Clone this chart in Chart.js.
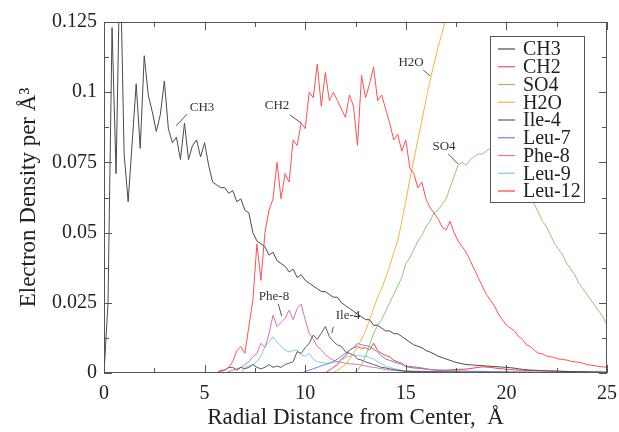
<!DOCTYPE html>
<html>
<head>
<meta charset="utf-8">
<script src="https://cdn.jsdelivr.net/npm/chart.js@4.4.1/dist/chart.umd.min.js"></script>
<style>
  html, body { margin: 0; padding: 0; background: #fff; }
  #wrap { width: 619px; height: 432px; }
</style>
</head>
<body>
<div id="wrap"><canvas id="grafico" width="619" height="432"></canvas></div>
<script>
// radial distance (Å), one point every 0.2
const radius = [
  0, 0.2, 0.4, 0.6, 0.8, 1, 1.2, 1.4, 1.6, 1.8,
  2, 2.2, 2.4, 2.6, 2.8, 3, 3.2, 3.4, 3.6, 3.8,
  4, 4.2, 4.4, 4.6, 4.8, 5, 5.2, 5.4, 5.6, 5.8,
  6, 6.2, 6.4, 6.6, 6.8, 7, 7.2, 7.4, 7.6, 7.8,
  8, 8.2, 8.4, 8.6, 8.8, 9, 9.2, 9.4, 9.6, 9.8,
  10, 10.2, 10.4, 10.6, 10.8, 11, 11.2, 11.4, 11.6, 11.8,
  12, 12.2, 12.4, 12.6, 12.8, 13, 13.2, 13.4, 13.6, 13.8,
  14, 14.2, 14.4, 14.6, 14.8, 15, 15.2, 15.4, 15.6, 15.8,
  16, 16.2, 16.4, 16.6, 16.8, 17, 17.2, 17.4, 17.6, 17.8,
  18, 18.2, 18.4, 18.6, 18.8, 19, 19.2, 19.4, 19.6, 19.8,
  20, 20.2, 20.4, 20.6, 20.8, 21, 21.2, 21.4, 21.6, 21.8,
  22, 22.2, 22.4, 22.6, 22.8, 23, 23.2, 23.4, 23.6, 23.8,
  24, 24.2, 24.4, 24.6, 24.8, 25
];

const ch3 = [
  0, 0.025, 0.123, 0.071, 0.15, 0.078, 0.061, 0.082, 0.103, 0.08,
  0.113, 0.099, 0.093, 0.086, 0.092, 0.104, 0.087, 0.082, 0.084, 0.076,
  0.089, 0.076, 0.081, 0.083, 0.077, 0.082, 0.074, 0.068, 0.067, 0.066,
  0.066, 0.064, 0.065, 0.061, 0.062, 0.058, 0.057, 0.05, 0.047, 0.046,
  0.045, 0.042, 0.043, 0.04, 0.039, 0.038, 0.036, 0.037, 0.034, 0.035,
  0.033, 0.032, 0.031, 0.03, 0.029, 0.029, 0.028, 0.027, 0.027, 0.025,
  0.024, 0.023, 0.022, 0.021, 0.02, 0.019, 0.019, 0.017, 0.017, 0.016,
  0.015, 0.015, 0.014, 0.014, 0.013, 0.012, 0.011, 0.01, 0.0095, 0.009,
  0.008, 0.0075, 0.0068, 0.006, 0.0055, 0.005, 0.0045, 0.004, 0.0036, 0.0033,
  0.003, 0.0029, 0.0028, 0.0027, 0.0026, 0.0025, 0.0024, 0.0023, 0.0022, 0.0021,
  0.002, 0.0019, 0.0017, 0.0015, 0.0013, 0.0012, 0.001, 0.001, 0.0009, 0.0008,
  0.0008, 0.0007, 0.0007, 0.0006, 0.0006, 0.0005, 0.0005, 0.0005, 0.0004, 0.0004,
  0.0004, 0.0003, 0.0003, 0.0003, 0.0002, 0.0002
];
const ch2 = [
  0, 0, 0, 0, 0, 0, 0, 0, 0, 0,
  0, 0, 0, 0, 0, 0, 0, 0, 0, 0,
  0, 0, 0, 0, 0, 0, 0, 0, 0, 0.0005,
  0.001, 0.002, 0.004, 0.008, 0.0094, 0.007, 0.0165, 0.026, 0.046, 0.033,
  0.05, 0.058, 0.062, 0.075, 0.062, 0.071, 0.068, 0.083, 0.081, 0.089,
  0.087, 0.1, 0.098, 0.11, 0.095, 0.107, 0.097, 0.1, 0.097, 0.094,
  0.091, 0.099, 0.095, 0.081, 0.106, 0.098, 0.103, 0.109, 0.097, 0.099,
  0.094, 0.089, 0.083, 0.085, 0.079, 0.083, 0.073, 0.071, 0.066, 0.068,
  0.062, 0.059, 0.057, 0.055, 0.052, 0.051, 0.054, 0.05, 0.047, 0.045,
  0.043, 0.04, 0.037, 0.034, 0.031, 0.028, 0.026, 0.024, 0.021, 0.019,
  0.017, 0.016, 0.015, 0.013, 0.012, 0.01, 0.0094, 0.008, 0.007, 0.0068,
  0.006, 0.0058, 0.0055, 0.005, 0.0048, 0.0046, 0.0042, 0.004, 0.0038, 0.0035,
  0.003, 0.0028, 0.0026, 0.0023, 0.0022, 0.002
];
const so4 = [
  0, 0, 0, 0, 0, 0, 0, 0, 0, 0,
  0, 0, 0, 0, 0, 0, 0, 0, 0, 0,
  0, 0, 0, 0, 0, 0, 0, 0, 0, 0,
  0, 0, 0, 0, 0, 0, 0, 0, 0, 0,
  0, 0, 0, 0, 0, 0, 0, 0, 0, 0,
  0, 0, 0, 0, 0, 0, 0, 0, 0, 0,
  0, 0, 0, 0.001, 0.003, 0.006, 0.01, 0.014, 0.017, 0.019,
  0.022, 0.025, 0.028, 0.031, 0.034, 0.039, 0.041, 0.044, 0.047, 0.049,
  0.052, 0.054, 0.057, 0.058, 0.06, 0.062, 0.066, 0.07, 0.074, 0.075,
  0.074, 0.076, 0.077, 0.078, 0.078, 0.079, 0.08, 0.081, 0.08, 0.081,
  0.08, 0.078, 0.075, 0.072, 0.068, 0.064, 0.062, 0.06, 0.057, 0.054,
  0.052, 0.049, 0.046, 0.044, 0.042, 0.039, 0.037, 0.035, 0.032, 0.03,
  0.028, 0.026, 0.024, 0.022, 0.02, 0.017
];
const h2o = [
  0, 0, 0, 0, 0, 0, 0, 0, 0, 0,
  0, 0, 0, 0, 0, 0, 0, 0, 0, 0,
  0, 0, 0, 0, 0, 0, 0, 0, 0, 0,
  0, 0, 0, 0, 0, 0, 0, 0, 0, 0,
  0, 0, 0, 0, 0, 0, 0, 0, 0, 0,
  0, 0, 0, 0, 0, 0, 0, 0, 0.001, 0.002,
  0.003, 0.005, 0.007, 0.0094, 0.012, 0.015, 0.019, 0.023, 0.027, 0.03,
  0.034, 0.038, 0.043, 0.047, 0.054, 0.061, 0.069, 0.076, 0.083, 0.09,
  0.097, 0.104, 0.11, 0.116, 0.121, 0.127, 0.134, 0.141, 0.148, 0.155,
  0.162, 0.169, 0.176, 0.183, 0.19, 0.197, 0.204, 0.21, 0.216, 0.222,
  0.228, 0.234, 0.24, 0.245, 0.25, 0.255, 0.26, 0.264, 0.268, 0.272,
  0.276, 0.28, 0.283, 0.286, 0.289, 0.292, 0.294, 0.296, 0.298, 0.3,
  0.302, 0.303, 0.304, 0.305, 0.306, 0.307
];
const ile4 = [
  0, 0, 0, 0, 0, 0, 0, 0, 0, 0,
  0, 0, 0, 0, 0, 0, 0, 0, 0, 0,
  0, 0, 0, 0, 0, 0, 0, 0, 0, 0.001,
  0.001, 0.002, 0.002, 0.001, 0.002, 0.0015, 0.002, 0.003, 0.002, 0.0015,
  0.002, 0.003, 0.002, 0.0025, 0.002, 0.003, 0.0035, 0.004, 0.0076, 0.007,
  0.009, 0.0106, 0.0135, 0.012, 0.0142, 0.0165, 0.013, 0.0112, 0.01, 0.0095,
  0.0076, 0.007, 0.0065, 0.005, 0.0046, 0.004, 0.0035, 0.003, 0.0025, 0.002,
  0.0018, 0.0015, 0.0012, 0.001, 0.0008, 0.0006, 0.0006, 0.0005, 0.0005, 0.0005,
  0.0005, 0.0005, 0.0005, 0.0004, 0.0004, 0.0004, 0.0004, 0.0004, 0.0004, 0.0003,
  0.0003, 0.0003, 0.0003, 0.0003, 0.0003, 0.0003, 0.0002, 0.0002, 0.0002, 0.0002,
  0.0002, 0.0002, 0.0002, 0.0002, 0.0002, 0.0002, 0.0001, 0.0001, 0.0001, 0.0001,
  0.0001, 0.0001, 0.0001, 0.0001, 0.0001, 0.0001, 0.0001, 0.0001, 0.0001, 0.0001,
  0.0001, 0.0001, 0.0001, 0.0001, 0.0001, 0.0001
];
const leu7 = [
  0, 0, 0, 0, 0, 0, 0, 0, 0, 0,
  0, 0, 0, 0, 0, 0, 0, 0, 0, 0,
  0, 0, 0, 0, 0, 0, 0, 0, 0, 0,
  0, 0, 0, 0, 0, 0, 0, 0, 0, 0,
  0, 0, 0, 0, 0, 0, 0, 0, 0, 0,
  0.0005, 0.001, 0.0015, 0.002, 0.0025, 0.003, 0.0035, 0.004, 0.005, 0.006,
  0.007, 0.008, 0.009, 0.0106, 0.01, 0.0098, 0.0094, 0.0085, 0.0075, 0.006,
  0.005, 0.0045, 0.004, 0.0035, 0.003, 0.0025, 0.0023, 0.0022, 0.002, 0.0018,
  0.0015, 0.0013, 0.0012, 0.001, 0.001, 0.0008, 0.0008, 0.0008, 0.0007, 0.0007,
  0.0007, 0.0006, 0.0006, 0.0006, 0.0006, 0.0005, 0.0005, 0.0005, 0.0005, 0.0005,
  0.0005, 0.0004, 0.0004, 0.0004, 0.0004, 0.0004, 0.0004, 0.0003, 0.0003, 0.0003,
  0.0003, 0.0003, 0.0003, 0.0003, 0.0003, 0.0003, 0.0003, 0.0003, 0.0003, 0.0003,
  0.0003, 0.0003, 0.0003, 0.0003, 0.0003, 0.0003
];
const phe8 = [
  0, 0, 0, 0, 0, 0, 0, 0, 0, 0,
  0, 0, 0, 0, 0, 0, 0, 0, 0, 0,
  0, 0, 0, 0, 0, 0, 0, 0, 0, 0,
  0, 0.0005, 0.001, 0.0015, 0.002, 0.003, 0.004, 0.0058, 0.007, 0.0106,
  0.009, 0.014, 0.0206, 0.0165, 0.018, 0.0195, 0.0224, 0.019, 0.023, 0.0245,
  0.019, 0.0141, 0.012, 0.0095, 0.0082, 0.0065, 0.0055, 0.0045, 0.004, 0.0038,
  0.0035, 0.0033, 0.0032, 0.003, 0.0028, 0.0025, 0.0022, 0.002, 0.0018, 0.0015,
  0.0012, 0.001, 0.001, 0.0008, 0.0007, 0.0005, 0.0005, 0.0005, 0.0005, 0.0005,
  0.0004, 0.0004, 0.0004, 0.0004, 0.0004, 0.0003, 0.0003, 0.0003, 0.0003, 0.0003,
  0.0003, 0.0003, 0.0002, 0.0002, 0.0002, 0.0002, 0.0002, 0.0002, 0.0002, 0.0002,
  0.0002, 0.0002, 0.0002, 0.0001, 0.0001, 0.0001, 0.0001, 0.0001, 0.0001, 0.0001,
  0.0001, 0.0001, 0.0001, 0.0001, 0.0001, 0.0001, 0.0001, 0.0001, 0.0001, 0.0001,
  0.0001, 0.0001, 0.0001, 0.0001, 0.0001, 0.0001
];
const leu9 = [
  0, 0, 0, 0, 0, 0, 0, 0, 0, 0,
  0, 0, 0, 0, 0, 0, 0, 0, 0, 0,
  0, 0, 0, 0, 0, 0, 0, 0, 0, 0,
  0, 0, 0, 0, 0, 0.002, 0.0025, 0.003, 0.004, 0.006,
  0.0094, 0.011, 0.0129, 0.011, 0.0095, 0.0082, 0.0075, 0.008, 0.0082, 0.0065,
  0.006, 0.007, 0.005, 0.004, 0.0038, 0.0035, 0.0035, 0.0038, 0.004, 0.0045,
  0.0055, 0.006, 0.0064, 0.0062, 0.006, 0.006, 0.0055, 0.005, 0.004, 0.0032,
  0.0025, 0.002, 0.0016, 0.0013, 0.001, 0.0008, 0.0008, 0.0007, 0.0007, 0.0006,
  0.0006, 0.0005, 0.0005, 0.0005, 0.0004, 0.0004, 0.0004, 0.0004, 0.0003, 0.0003,
  0.0003, 0.0003, 0.0003, 0.0002, 0.0002, 0.0002, 0.0002, 0.0002, 0.0002, 0.0002,
  0.0002, 0.0002, 0.0001, 0.0001, 0.0001, 0.0001, 0.0001, 0.0001, 0.0001, 0.0001,
  0.0001, 0.0001, 0.0001, 0.0001, 0.0001, 0.0001, 0.0001, 0.0001, 0.0001, 0.0001,
  0.0001, 0.0001, 0.0001, 0.0001, 0.0001, 0.0001
];
const leu12 = [
  0, 0, 0, 0, 0, 0, 0, 0, 0, 0,
  0, 0, 0, 0, 0, 0, 0, 0, 0, 0,
  0, 0, 0, 0, 0, 0, 0, 0, 0, 0,
  0, 0, 0, 0, 0, 0, 0, 0, 0, 0,
  0, 0, 0, 0, 0, 0, 0, 0, 0, 0,
  0, 0, 0, 0, 0, 0, 0.001, 0.002, 0.003, 0.005,
  0.006, 0.0082, 0.009, 0.0094, 0.0088, 0.009, 0.0082, 0.0106, 0.008, 0.007,
  0.0062, 0.0058, 0.0045, 0.004, 0.0035, 0.0023, 0.002, 0.0018, 0.0017, 0.0015,
  0.0014, 0.0012, 0.0011, 0.001, 0.001, 0.001, 0.0011, 0.0012, 0.0012, 0.0013,
  0.0014, 0.0016, 0.0018, 0.002, 0.0022, 0.0021, 0.002, 0.0018, 0.0016, 0.0015,
  0.0013, 0.0012, 0.0011, 0.001, 0.001, 0.0009, 0.0009, 0.0008, 0.0008, 0.0008,
  0.0007, 0.0007, 0.0007, 0.0006, 0.0006, 0.0006, 0.0005, 0.0005, 0.0005, 0.0005,
  0.0004, 0.0004, 0.0004, 0.0004, 0.0003, 0.0003
];

const labels = ["CH3", "CH2", "SO4", "H2O", "Ile-4", "Leu-7", "Phe-8", "Leu-9", "Leu-12"];
const series = [ch3, ch2, so4, h2o, ile4, leu7, phe8, leu9, leu12];
const colori = ["#4a4a4a", "#ff5050", "#8cc873", "#ffb040", "#5c5c5c", "#6f86cf", "#e070b0", "#80cce6", "#ff3c3c"];

const xTicks = [0, 5, 10, 15, 20, 25];
const yTicks = [0, 0.025, 0.05, 0.075, 0.1, 0.125];

// in-plot labels: text centre and leader line, in data coordinates
const note = [
  { t: "CH3", x: 4.87, y: 0.0944, l: [4.13, 0.0922, 3.58, 0.088] },
  { t: "CH2", x: 8.6, y: 0.0951, l: [9.24, 0.0919, 9.83, 0.0889] },
  { t: "H2O", x: 15.26, y: 0.1104, l: [15.87, 0.1079, 16.2, 0.1058] },
  { t: "SO4", x: 16.9, y: 0.0805, l: [17.11, 0.078, 17.61, 0.0744] },
  { t: "Phe-8", x: 8.45, y: 0.0271, l: [8.66, 0.0246, 8.83, 0.0203] },
  { t: "Ile-4", x: 12.13, y: 0.0203, l: [11.4, 0.0164, 11.32, 0.0142] }
];

const SERIF = '"Liberation Serif", "Times New Roman", serif';

const decorazioni = {
  id: "decorazioni",
  afterDatasetsDraw(chart) {
    const ctx = chart.ctx;
    const a = chart.chartArea;
    const sx = chart.scales.x, sy = chart.scales.y;
    ctx.save();

    // annotations
    ctx.fillStyle = "#333";
    ctx.strokeStyle = "#555";
    ctx.lineWidth = 1;
    ctx.font = "13px " + SERIF;
    ctx.textAlign = "center";
    ctx.textBaseline = "middle";
    for (const n of note) {
      ctx.fillText(n.t, sx.getPixelForValue(n.x), sy.getPixelForValue(n.y));
      ctx.beginPath();
      ctx.moveTo(sx.getPixelForValue(n.l[0]), sy.getPixelForValue(n.l[1]));
      ctx.lineTo(sx.getPixelForValue(n.l[2]), sy.getPixelForValue(n.l[3]));
      ctx.stroke();
    }

    // legend box
    const lx = a.right - 117, ly = a.top + 14, lw = 94, lh = 166;
    ctx.fillStyle = "#fff";
    ctx.fillRect(lx, ly, lw, lh);
    ctx.strokeStyle = "#555";
    ctx.strokeRect(lx + 0.5, ly + 0.5, lw, lh);
    ctx.font = "20px " + SERIF;
    ctx.textAlign = "left";
    chart.data.datasets.forEach((ds, i) => {
      const yy = ly + 13 + i * 17.75;
      ctx.strokeStyle = ds.borderColor;
      ctx.lineWidth = 1.2;
      ctx.beginPath();
      ctx.moveTo(lx + 8, yy);
      ctx.lineTo(lx + 25, yy);
      ctx.stroke();
      ctx.fillStyle = "#222";
      ctx.fillText(ds.label, lx + 33, yy + 1);
    });

    // frame and inward ticks
    ctx.strokeStyle = "#555";
    ctx.lineWidth = 1;
    ctx.strokeRect(a.left + 0.5, a.top + 0.5, a.right - a.left - 1, a.bottom - a.top - 1);
    ctx.beginPath();
    for (let v = 0; v <= 25; v += 2.5) {
      const px = Math.round(sx.getPixelForValue(v)) + 0.5;
      const len = (v % 5 === 0) ? 8 : 5;
      ctx.moveTo(px, a.bottom); ctx.lineTo(px, a.bottom - len);
      ctx.moveTo(px, a.top); ctx.lineTo(px, a.top + len);
    }
    for (let k = 0; k <= 10; k++) {
      const py = Math.round(sy.getPixelForValue(k * 0.0125)) + 0.5;
      const len = (k % 2 === 0) ? 8 : 5;
      ctx.moveTo(a.left, py); ctx.lineTo(a.left + len, py);
      ctx.moveTo(a.right, py); ctx.lineTo(a.right - len, py);
    }
    ctx.stroke();
    ctx.restore();
  }
};

function noPadding(s) {
  s.paddingLeft = 0; s.paddingRight = 0; s.paddingTop = 0; s.paddingBottom = 0;
}

window.onload = function () {
  let datasets = [];
  for (let i = 0; i < labels.length; i++) {
    datasets.push({
      label: labels[i],
      data: radius.map((r, j) => ({ x: r, y: series[i][j] })),
      borderColor: colori[i],
      borderWidth: 1,
      pointRadius: 0,
      tension: 0,
      fill: false
    });
  }

  new Chart(document.getElementById("grafico"), {
    type: "line",
    data: { datasets: datasets },
    options: {
      responsive: false,
      animation: false,
      layout: { padding: { top: 22, right: 12, left: 0, bottom: 0 } },
      plugins: { legend: { display: false }, tooltip: { enabled: false } },
      scales: {
        x: {
          type: "linear",
          min: 0, max: 25,
          afterFit: (s) => { s.height = 59; noPadding(s); },
          afterBuildTicks: (s) => { s.ticks = xTicks.map(v => ({ value: v })); },
          grid: { display: false, drawTicks: false },
          border: { display: false },
          ticks: { color: "#222", padding: 9, font: { family: SERIF, size: 20 }, maxRotation: 0 },
          title: {
            display: true,
            text: "Radial Distance from Center,  Å",
            color: "#222",
            font: { family: SERIF, size: 23 },
            padding: { top: 0, bottom: 0 }
          }
        },
        y: {
          min: 0, max: 0.125,
          afterFit: (s) => { s.width = 104; noPadding(s); },
          afterBuildTicks: (s) => { s.ticks = yTicks.map(v => ({ value: v })); },
          grid: { display: false, drawTicks: false },
          border: { display: false },
          ticks: {
            color: "#222", padding: 7, font: { family: SERIF, size: 20 },
            callback: (v) => String(Math.round(v * 1000) / 1000)
          },
          title: {
            display: true,
            text: "Electron Density per Å³",
            color: "#222",
            font: { family: SERIF, size: 23 },
            padding: { top: 15, bottom: 0 }
          }
        }
      }
    },
    plugins: [decorazioni]
  });
};
</script>
</body>
</html>
